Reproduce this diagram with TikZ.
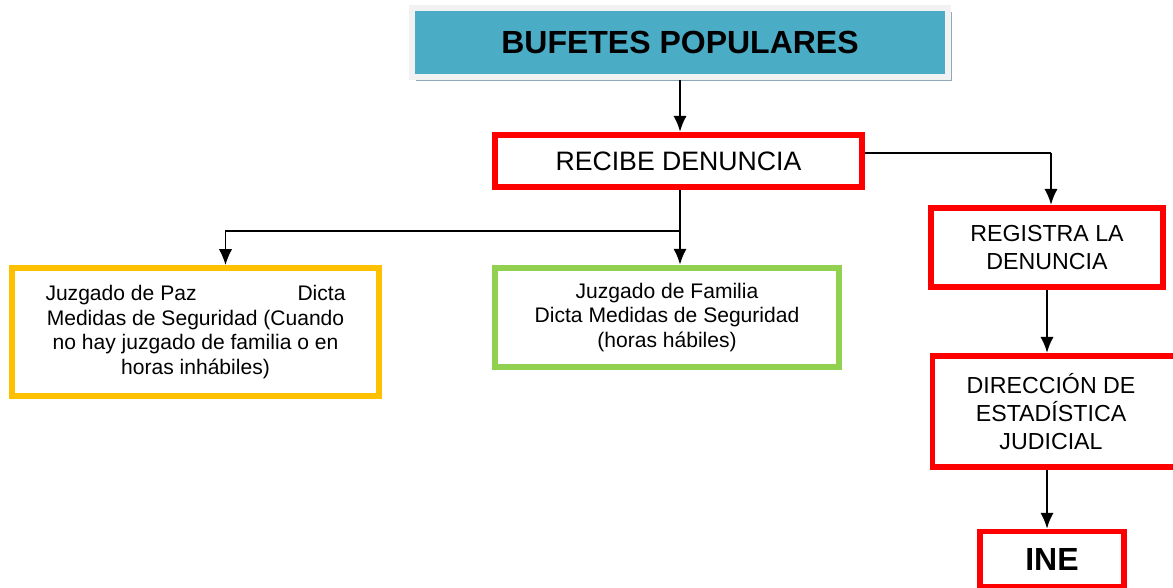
\documentclass[tikz,border=0pt]{standalone}
\usepackage{fontspec}
\setmainfont{Liberation Sans}
\usetikzlibrary{arrows.meta,shadows}
\definecolor{rojo}{HTML}{FF0000}
\definecolor{naranja}{HTML}{FFC000}
\definecolor{verde}{HTML}{92D050}
\definecolor{celeste}{HTML}{4BACC6}
\definecolor{marco}{HTML}{F2F2F2}
\definecolor{sombra}{HTML}{8EA9B9}
\tikzset{
  caja/.style={draw=rojo,line width=4.2pt,fill=white,align=center,inner sep=0pt,
    font=\fontsize{17.4pt}{21pt}\selectfont},
  cajajuz/.style={draw=#1,line width=4.4pt,fill=white,align=center,inner sep=0pt,
    font=\fontsize{15.8pt}{18.4pt}\selectfont},
  linea/.style={line width=1.8pt},
  rama/.style={line width=1.1pt}
}
\begin{document}
\begin{tikzpicture}[x=0.75pt,y=-0.75pt,>={Latex[length=12pt,width=10pt]}]
  \useasboundingbox (0,0) rectangle (1173,588);
  % Knoten
  \node[draw=marco,line width=4.5pt,fill=celeste,minimum width=402pt,minimum height=51.75pt,
    drop shadow={shadow xshift=3pt,shadow yshift=-3pt,fill=sombra,opacity=1},
    font=\fontsize{24pt}{28pt}\selectfont\bfseries] (bufetes) at (680,42.5) {BUFETES POPULARES};
  \node[caja,minimum width=275.6pt,minimum height=39.4pt,
    font=\fontsize{20pt}{24pt}\selectfont] (recibe) at (678.5,161) {RECIBE DENUNCIA};
  \node[cajajuz=naranja,minimum width=275.25pt,minimum height=96pt] (paz) at (195.5,332)
    {\makebox[225pt]{Juzgado de Paz\hfill Dicta}\\Medidas de Seguridad (Cuando\\no hay juzgado de familia o en\\horas inhábiles)};
  \node[cajajuz=verde,minimum width=258.4pt,minimum height=74.6pt] (familia) at (667,317.5)
    {Juzgado de Familia\\Dicta Medidas de Seguridad\\(horas hábiles)};
  \node[caja,minimum width=174.4pt,minimum height=59.6pt] (registra) at (1047,247.5) {REGISTRA LA\\DENUNCIA};
  \node[caja,minimum width=184pt,minimum height=83.6pt] (direccion) at (1055,411.5)
    {\hspace*{-6pt}DIRECCIÓN DE\\\hspace*{-6pt}ESTADÍSTICA\\\hspace*{-6pt}JUDICIAL};
  \node[caja,minimum width=108pt,minimum height=41pt,
    font=\fontsize{24pt}{28pt}\selectfont\bfseries] (ine) at (1052,559) {INE};
  \coordinate (split) at (680,231);
  \coordinate (codo) at (1051,153);

  % Pfeile
  \draw[linea,->] (bufetes.south) -- (recibe.north -| bufetes.south);
  \draw[linea,->] (recibe.south -| split) -- (familia.north -| split);
  \draw[rama,->] (split) -| ([xshift=22.5pt]paz.north);
  \draw[rama] (recibe.east |- codo) -- (codo);
  \draw[linea,->] (codo) -- (registra.north -| codo);
  \draw[linea,->] (registra.south) -- (direccion.north -| registra.south);
  \draw[linea,->] (direccion.south -| registra.south) -- (ine.north -| registra.south);
\end{tikzpicture}
\end{document}
